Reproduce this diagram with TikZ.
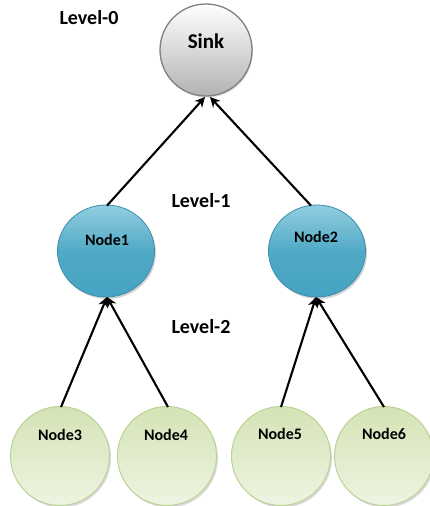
\documentclass[tikz,border=0pt]{standalone}
\usepackage{fontspec}
\setmainfont{Carlito}
\usetikzlibrary{arrows.meta,shadows,shapes.geometric}
\definecolor{sinkedge}{HTML}{7F7F7F}
\definecolor{bluetop}{HTML}{92CEE0}
\definecolor{bluebot}{HTML}{45A3C1}
\definecolor{blueedge}{HTML}{3A8FAD}
\definecolor{greentop}{HTML}{D4E3B5}
\definecolor{greenbot}{HTML}{EEF4E2}
\definecolor{greenedge}{HTML}{BCD296}
\tikzset{
  x=1pt,y=-1pt,
  sinknode/.style={circle,minimum size=92pt,inner sep=0pt,draw=sinkedge,line width=1.3pt,
    top color=white,bottom color=gray!60,
    drop shadow={shadow xshift=1pt,shadow yshift=-1.5pt,opacity=0.3}},
  bluenode/.style={ellipse,minimum width=97pt,minimum height=92pt,inner sep=0pt,draw=blueedge,line width=0.8pt,
    top color=bluetop,bottom color=bluebot,middle color=bluebot!85!bluetop,
    drop shadow={shadow xshift=1.5pt,shadow yshift=-2pt,opacity=0.35}},
  greennode/.style={circle,minimum size=99pt,inner sep=0pt,draw=greenedge,line width=1pt,
    top color=greentop,bottom color=greenbot,
    drop shadow={shadow xshift=1.5pt,shadow yshift=-2pt,opacity=0.3}},
  sinktext/.style={font=\bfseries\fontsize{21}{21}\selectfont},
  nodetext/.style={font=\bfseries\fontsize{16}{16}\selectfont},
  lvl/.style={font=\bfseries\fontsize{20}{20}\selectfont},
  link/.style={line width=2.1pt,-{Stealth[length=10pt,width=10pt]}},
}
\begin{document}
\begin{tikzpicture}
\useasboundingbox (0,0) rectangle (429,506);
\node[sinknode] (sink) at (206,50) {};
\node[sinktext] (sinkt) at (206,41) {Sink};
\node[bluenode] (n1) at (106,251) {};
\node[bluenode] (n2) at (317,251) {};
\node[nodetext] (n1t) at (107,240) {Node1};
\node[nodetext] (n2t) at (316,237) {Node2};
\node[greennode] (n3) at (60,456) {};
\node[greennode] (n4) at (167,456) {};
\node[greennode] (n5) at (281,456) {};
\node[greennode] (n6) at (384,456) {};
\node[nodetext] (n3t) at (60,435) {Node3};
\node[nodetext] (n4t) at (166,435) {Node4};
\node[nodetext] (n5t) at (280,434) {Node5};
\node[nodetext] (n6t) at (384,434) {Node6};
\node[lvl] (l0) at (89,18) {Level-0};
\node[lvl] (l1) at (201,201) {Level-1};
\node[lvl] (l2) at (201,327) {Level-2};
\coordinate (s1) at (205,97);
\coordinate (s2) at (210,97);
\coordinate (b1) at (107,297);
\coordinate (b2) at (316,297);
\draw[link] (n1.north) ++(1,1) -- (s1);
\draw[link] (n2.north) ++(-6,1) -- (s2);
\draw[link] (n3.north) ++(1,1) -- (b1);
\draw[link] (n4.north) ++(1,1) -- (b1);
\draw[link] (n5.north) ++(0,1) -- (b2);
\draw[link] (n6.north) ++(0,1) -- (b2);
\end{tikzpicture}
\end{document}
